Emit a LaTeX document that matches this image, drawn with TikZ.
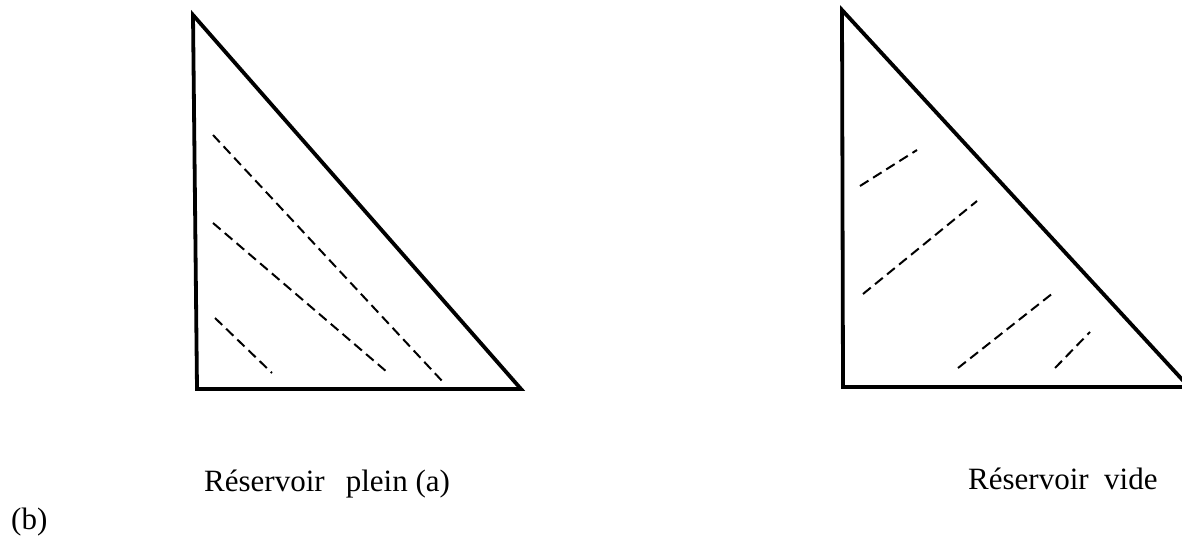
\documentclass[tikz,border=0pt]{standalone}
\usepackage{fontspec}
\setmainfont{Liberation Serif}
\begin{document}
\begin{tikzpicture}[x=1pt,y=-1pt,
  tri/.style={line width=3.8pt,line join=miter},
  hatch/.style={line width=2pt,dash pattern=on 10pt off 5.5pt},
  lbl/.style={inner sep=0pt,anchor=base west,font=\fontsize{31}{37}\selectfont}]
\useasboundingbox (0,0) rectangle (1182,537);
\clip (0,0) rectangle (1182,537);
% left triangle (full tank)
\coordinate (LA) at (193,15);
\coordinate (LB) at (197,389);
\coordinate (LC) at (521,389);
\draw[tri] (LA) -- (LB) -- (LC) -- cycle;
\draw[hatch] (213,135) -- (443,382);
\draw[hatch] (213,223) -- (387,372);
\draw[hatch] (215,318) -- (272,373);
% right triangle (empty tank)
\coordinate (RA) at (842,10);
\coordinate (RB) at (843,387);
\coordinate (RC) at (1189,387);
\draw[tri] (RA) -- (RB) -- (RC) -- cycle;
\draw[hatch] (860,186) -- (917,150);
\draw[hatch] (863,294) -- (977,201);
\draw[hatch] (958,368) -- (1053,293);
\draw[hatch] (1055,368) -- (1090,332);
% labels
\node[lbl] (la) at (204,491) {Réservoir\hspace{0.68em}plein (a)};
\node[lbl] (lb) at (968,489) {Réservoir\hspace{0.5em}vide};
\node[lbl] (lc) at (11,529) {(b)};
\end{tikzpicture}
\end{document}
